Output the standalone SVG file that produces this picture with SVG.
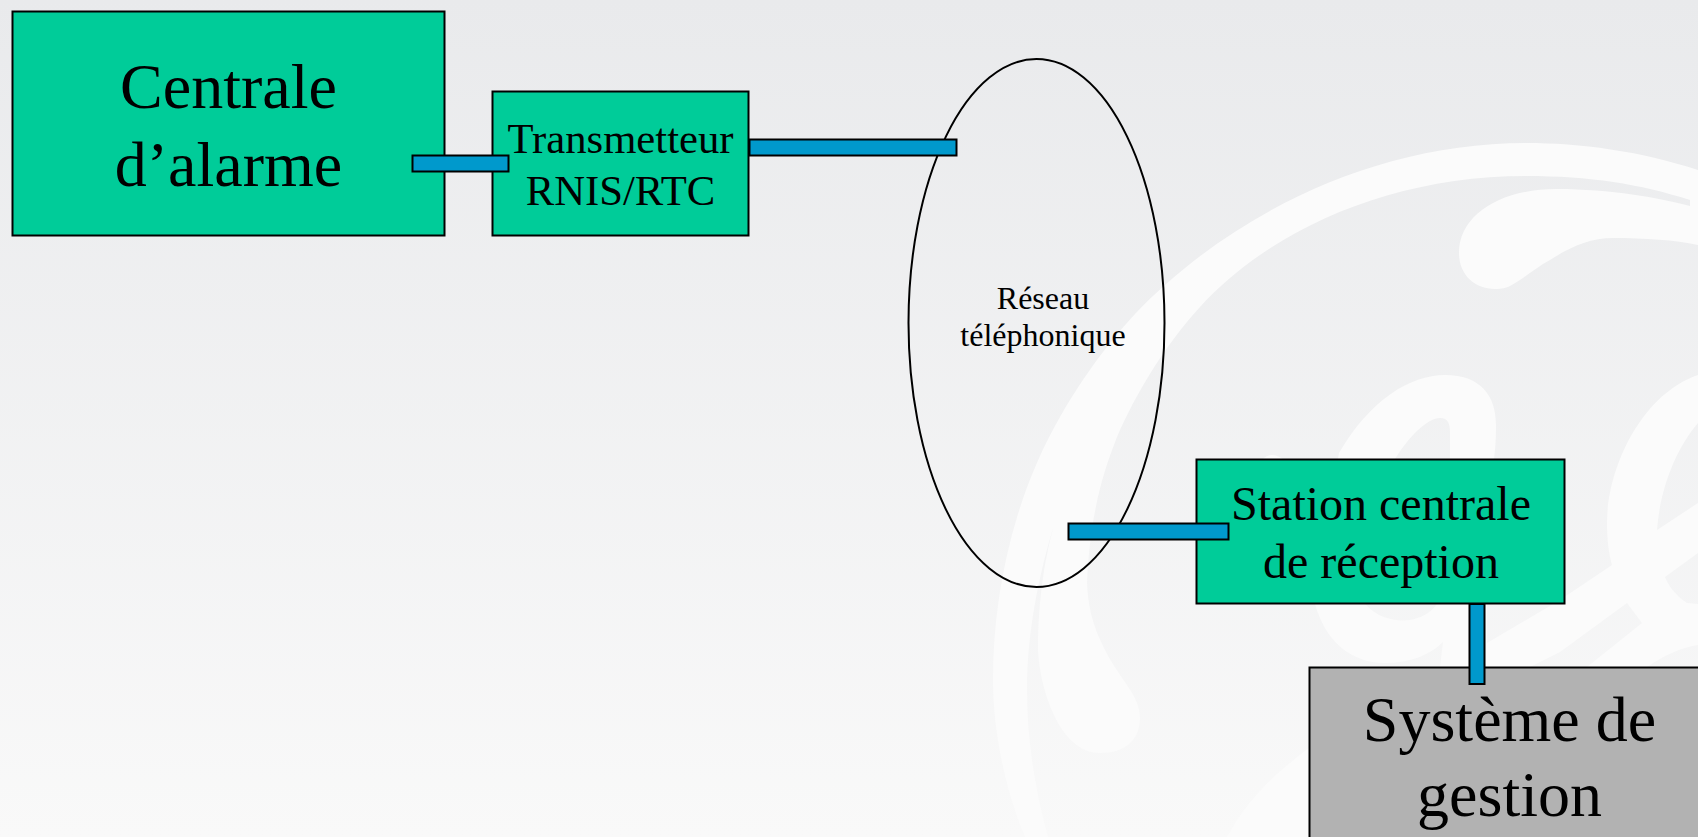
<svg xmlns="http://www.w3.org/2000/svg" width="1698" height="837" viewBox="0 0 1698 837">
<style>
.green{fill:#00cc99;stroke:#000;stroke-width:2}
.gray{fill:#b2b2b2;stroke:#000;stroke-width:2}
.link{fill:#0099cc;stroke:#000;stroke-width:2}
.mark{fill:#fbfbfb;stroke:none}
text{font-family:"Liberation Serif","Times New Roman",serif;fill:#000;text-anchor:middle}
.t64{font-size:64px}.t48{font-size:48px}.t43{font-size:42.67px}.t32{font-size:32px}
</style>
<defs>
<linearGradient id="bg" x1="0" y1="0" x2="0" y2="1">
<stop offset="0" stop-color="#e9eaec"/><stop offset="1" stop-color="#f9f9f9"/>
</linearGradient>
</defs>
<rect width="1698" height="837" fill="url(#bg)"/>
<g id="watermark">
<path class="mark" d="M1698,170 C1640,151 1580,143 1526,143 C1390,143 1260,200 1165,285 C1125,320 1090,365 1060,417 C1015,495 993,590 993,680 C993,730 1005,790 1025,837 L1048,837 C1035,790 1027,740 1027,690 C1027,630 1040,570 1055,522 C1045,555 1038,600 1038,650 C1040,690 1060,753 1100,753 C1125,753 1140,740 1140,718 C1140,695 1120,680 1105,650 C1092,625 1088,605 1087,583 C1090,520 1100,480 1117,437 C1135,395 1165,345 1200,307 C1270,230 1390,176 1526,176 C1590,176 1640,184 1690,200 L1690,206 C1660,198 1610,189 1557,189 C1500,189 1459,215 1459,253 C1459,275 1475,289 1495,289 C1502,289 1506,288 1510,286 C1525,278 1535,268 1550,260 C1570,247 1590,238 1613,238 C1645,238 1675,240 1698,245 Z"/>
<path class="mark" fill-rule="evenodd" d="M1315,604 C1325,640 1350,663 1385,663 C1410,663 1430,655 1443,642 L1440,667 L1530,667 L1560,652 L1627,603 L1642,623 L1587,667 L1647,667 C1665,655 1680,648 1698,645 L1698,604 L1687,603 C1675,595 1668,585 1665,577 L1698,553 L1698,503 L1657,530 C1660,490 1675,450 1698,423 L1698,375 C1640,395 1607,470 1607,523 C1607,540 1609,555 1612,565 L1560,600 L1487,643 L1487,604 L1494,459 C1496,445 1496,430 1496,425 C1496,395 1480,375 1445,375 C1410,375 1370,400 1339,453 Z M1395,459 C1410,435 1428,418 1440,418 C1448,418 1450,424 1450,432 L1450,459 L1437,604 C1430,614 1420,618 1410,620 C1395,622 1378,618 1365,604 Z"/>
<path class="mark" d="M1227,837 C1250,795 1280,770 1309,748 L1309,837 Z"/>
<path class="mark" d="M1262,460 Q1271,450 1284,460 Z"/>
</g>
<g id="centrale">
<rect class="green" x="12.500" y="11.500" width="432" height="224"/>
<text class="t64" x="228.500" y="108">Centrale</text>
<text class="t64" x="228.500" y="186">d’alarme</text>
</g>
<g id="transmetteur">
<rect class="green" x="492.500" y="91.500" width="256" height="144"/>
<text class="t43" x="620.500" y="153">Transmetteur</text>
<text class="t43" x="620.500" y="205">RNIS/RTC</text>
</g>
<g id="reseau">
<ellipse cx="1036.500" cy="323" rx="128" ry="264" fill="none" stroke="#000" stroke-width="2"/>
<text class="t32" x="1043" y="309">Réseau</text>
<text class="t32" x="1043" y="346">téléphonique</text>
</g>
<g id="station">
<rect class="green" x="1196.500" y="459.500" width="368" height="144"/>
<text class="t48" x="1381" y="520">Station centrale</text>
<text class="t48" x="1381" y="578">de réception</text>
</g>
<g id="systeme">
<rect class="gray" x="1309.500" y="667.500" width="400" height="190"/>
<text class="t64" x="1509.500" y="741">Système de</text>
<text class="t64" x="1509.500" y="816">gestion</text>
</g>
<g id="connectors">
<rect class="link" x="412.500" y="155.500" width="96" height="16"/>
<rect class="link" x="749.500" y="139.500" width="207" height="16"/>
<rect class="link" x="1068.500" y="523.500" width="160" height="16"/>
<rect class="link" x="1469.500" y="604" width="15" height="80"/>
</g>
</svg>
